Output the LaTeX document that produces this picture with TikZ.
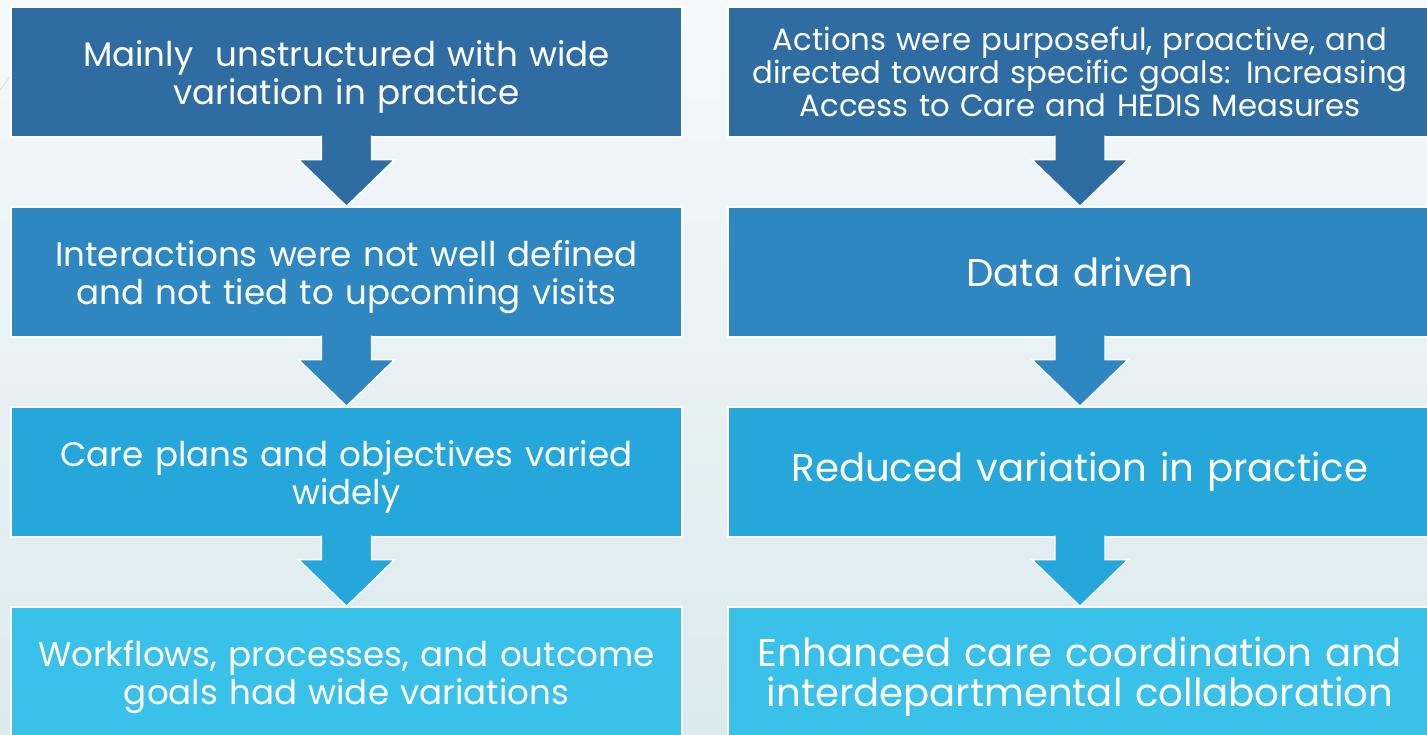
\documentclass[tikz,border=0pt]{standalone}
\usepackage{fontspec}
\setmainfont{Poppins}
\usetikzlibrary{calc,positioning}

\definecolor{rowone}{RGB}{47,108,161}
\definecolor{rowtwo}{RGB}{46,135,192}
\definecolor{rowthree}{RGB}{38,167,219}
\definecolor{rowfour}{RGB}{58,193,234}
\definecolor{bgtop}{RGB}{245,249,251}
\definecolor{bgbot}{RGB}{219,234,238}

\tikzset{
  stage/.style={draw=white, line width=0.8pt, text=white, align=center,
    minimum height=2.6cm, inner sep=0pt},
  leftstage/.style={stage, minimum width=13.42cm, text width=13.1cm,
    font=\fontsize{19.4}{21.6}\selectfont,
    execute at begin node={\rule{0pt}{1.05em}}},
  rightstage/.style={stage, minimum width=14.08cm, text width=13.7cm},
  bigtext/.style={font=\fontsize{22}{22.8}\selectfont},
  smalltext/.style={font=\fontsize{17.5}{18.8}\selectfont}
}
% block arrow from the bottom of one box to the top of the next
\def\blockarrow[#1](#2)(#3){\filldraw[fill=#1, draw=white, line width=0.8pt]
  ($(#2.south)+(-25,-2)$) -- ($(#2.south)+(-25,22)$) -- ($(#2.south)+(-48,22)$)
  -- (#3.north) -- ($(#2.south)+(48,22)$) -- ($(#2.south)+(25,22)$)
  -- ($(#2.south)+(25,-2)$);}

\begin{document}
\begin{tikzpicture}[x=0.02cm, y=-0.02cm]
  %%%%% START %%%%%
  \useasboundingbox (0,0) rectangle (1427,734);
  \shade[top color=bgtop, bottom color=bgbot] (0,0) rectangle (1427,734);
  \draw[black!15, line width=0.4pt] (0,90) -- (12,74);

  % before
  \node[leftstage, fill=rowone] (b1) at (346.5,72) {Mainly\ \ unstructured with wide\\variation in practice};
  \node[leftstage, fill=rowtwo] (b2) at (346.5,272) {Interactions were not well defined\\and not tied to upcoming visits};
  \node[leftstage, fill=rowthree] (b3) at (346.5,472) {Care plans and objectives varied\\widely};
  \node[leftstage, fill=rowfour] (b4) at (346.5,672) {Workflows, processes, and outcome\\goals had wide variations};

  % after
  \node[rightstage, smalltext, fill=rowone] (a1) at (1080,72) {Actions were purposeful, proactive, and\\directed toward specific goals: Increasing\\Access to Care and HEDIS Measures};
  \node[rightstage, bigtext, fill=rowtwo] (a2) at (1080,272) {Data driven};
  \node[rightstage, bigtext, fill=rowthree] (a3) at (1080,472) {Reduced variation in practice};
  \node[rightstage, bigtext, fill=rowfour, execute at begin node={\rule{0pt}{1em}}] (a4) at (1080,672) {Enhanced care coordination and\\interdepartmental collaboration};

  \blockarrow[rowone](b1)(b2)
  \blockarrow[rowtwo](b2)(b3)
  \blockarrow[rowthree](b3)(b4)
  \blockarrow[rowone](a1)(a2)
  \blockarrow[rowtwo](a2)(a3)
  \blockarrow[rowthree](a3)(a4)
  %%%%% END %%%%%
\end{tikzpicture}
\end{document}
